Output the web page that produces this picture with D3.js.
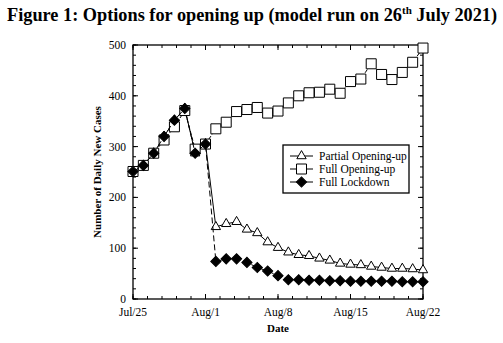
<!DOCTYPE html>
<html>
<head>
<meta charset="utf-8">
<script src="https://cdn.jsdelivr.net/npm/d3@7"></script>
<style>
body { margin: 0; background: #fff; }
svg { font-family: "Liberation Serif", "DejaVu Serif", serif; }
</style>
</head>
<body>
<svg id="chart" width="503" height="343"></svg>
<script>
// days since Jul/25
var days = d3.range(0, 29);
var tickDays = [0, 7, 14, 21, 28];
var tickLabels = ["Jul/25", "Aug/1", "Aug/8", "Aug/15", "Aug/22"];
var yTicks = [0, 100, 200, 300, 400, 500];

var partial = [251,263,287,320,352,375,287,305,142,148,152,137,130,112,101,92,87,85,80,76,70,68,67,64,62,60,60,59,57];
var fullOpen = [251,263,287,313,339,371,295,305,335,348,369,373,377,366,370,386,400,406,407,413,405,428,433,463,442,432,446,466,494];
var lockdown = [251,263,287,320,352,375,287,305,74,79,79,72,62,55,46,38,38,37,37,36,36,35,35,35,35,35,34,34,34];

var seriesNames = ["Partial Opening-up", "Full Opening-up", "Full Lockdown"];

var svg = d3.select("#chart"),
    margin = {top: 45, right: 80, bottom: 44, left: 133},
    width = +svg.attr("width") - margin.left - margin.right,
    height = +svg.attr("height") - margin.top - margin.bottom;

// title with superscript
var title = svg.append("text").attr("x", 7).attr("y", 21)
    .attr("font-size", "18.3px").attr("font-weight", "bold");
title.append("tspan").text("Figure 1: Options for opening up (model run on 26");
title.append("tspan").attr("font-size", "11px").attr("dy", -7).text("th");
title.append("tspan").attr("dy", 7).text(" July 2021)");

var x = d3.scaleLinear().domain([0, 28]).range([0, width]),
    y = d3.scaleLinear().domain([0, 500]).range([height, 0]);

var g = svg.append("g").attr("transform", "translate(" + margin.left + "," + margin.top + ")");

// minor ticks, 5 per week / 5 per 100
var xMinor = d3.range(0, 28.01, 1.4);
var yMinor = d3.range(0, 501, 20);

function tickLines(sel, vals, scale, horiz, len) {
    vals.forEach(function(v) {
        if (horiz) {
            sel.append("line").attr("x1", scale(v)).attr("x2", scale(v)).attr("y1", height).attr("y2", height - len);
            sel.append("line").attr("x1", scale(v)).attr("x2", scale(v)).attr("y1", 0).attr("y2", len);
        } else {
            sel.append("line").attr("y1", scale(v)).attr("y2", scale(v)).attr("x1", 0).attr("x2", len);
            sel.append("line").attr("y1", scale(v)).attr("y2", scale(v)).attr("x1", width).attr("x2", width - len);
        }
    });
}
var ticks = g.append("g").attr("stroke", "#000").attr("stroke-width", 1);
tickLines(ticks, xMinor, x, true, 3);
tickLines(ticks, tickDays, x, true, 5);
tickLines(ticks, yMinor, y, false, 3);
tickLines(ticks, yTicks, y, false, 5);

g.append("rect").attr("width", width).attr("height", height)
    .attr("fill", "none").attr("stroke", "#000").attr("stroke-width", 1.3);

// tick labels
g.selectAll(".xl").data(tickDays).enter().append("text")
    .attr("x", function(d) { return x(d); }).attr("y", height + 17)
    .attr("text-anchor", "middle").attr("font-size", "11.5px")
    .text(function(d, i) { return tickLabels[i]; });
g.selectAll(".yl").data(yTicks).enter().append("text")
    .attr("x", -7).attr("y", function(d) { return y(d) + 4; })
    .attr("text-anchor", "end").attr("font-size", "11.5px")
    .text(function(d) { return d; });

svg.append("text").attr("x", margin.left + width / 2).attr("y", 332)
    .attr("text-anchor", "middle").attr("font-size", "11px").attr("font-weight", "bold").text("Date");
svg.append("text").attr("transform", "translate(101," + (margin.top + y(250)) + ") rotate(-90)")
    .attr("text-anchor", "middle").attr("font-size", "11px").attr("font-weight", "bold").text("Number of Daily New Cases");

var line = d3.line().x(function(d, i) { return x(days[i]); }).y(function(d) { return y(d); });

var sym = [d3.symbol().type(d3.symbolTriangle).size(38),
           d3.symbol().type(d3.symbolSquare).size(100),
           d3.symbol().type(d3.symbolSquare).size(52)];
var rot = ["", "", " rotate(45)"];
var fills = ["#fff", "#fff", "#000"];
var dashes = [null, "4,2", "6,3"];
var allData = [partial, fullOpen, lockdown];

allData.forEach(function(data, k) {
    g.append("path").datum(data).attr("d", line)
        .attr("fill", "none").attr("stroke", "#000").attr("stroke-width", 1)
        .attr("stroke-dasharray", dashes[k]);
    g.selectAll(".m" + k).data(data).enter().append("path")
        .attr("d", sym[k])
        .attr("transform", function(d, i) { return "translate(" + x(days[i]) + "," + y(d) + ")" + rot[k]; })
        .attr("fill", fills[k]).attr("stroke", "#000").attr("stroke-width", 1);
});

// legend
var lg = svg.append("g").attr("transform", "translate(283,145)");
lg.append("rect").attr("width", 126).attr("height", 48)
    .attr("fill", "#fff").attr("stroke", "#000").attr("stroke-width", 1.3);
seriesNames.forEach(function(name, k) {
    var ly = 11 + k * 13;
    lg.append("line").attr("x1", 7).attr("x2", 30).attr("y1", ly).attr("y2", ly)
        .attr("stroke", "#000").attr("stroke-width", 1);
    lg.append("path").attr("d", sym[k]).attr("transform", "translate(18.5," + ly + ")" + rot[k])
        .attr("fill", fills[k]).attr("stroke", "#000");
    lg.append("text").attr("x", 36).attr("y", ly + 4).attr("font-size", "11.5px").text(name);
});
</script>
</body>
</html>
